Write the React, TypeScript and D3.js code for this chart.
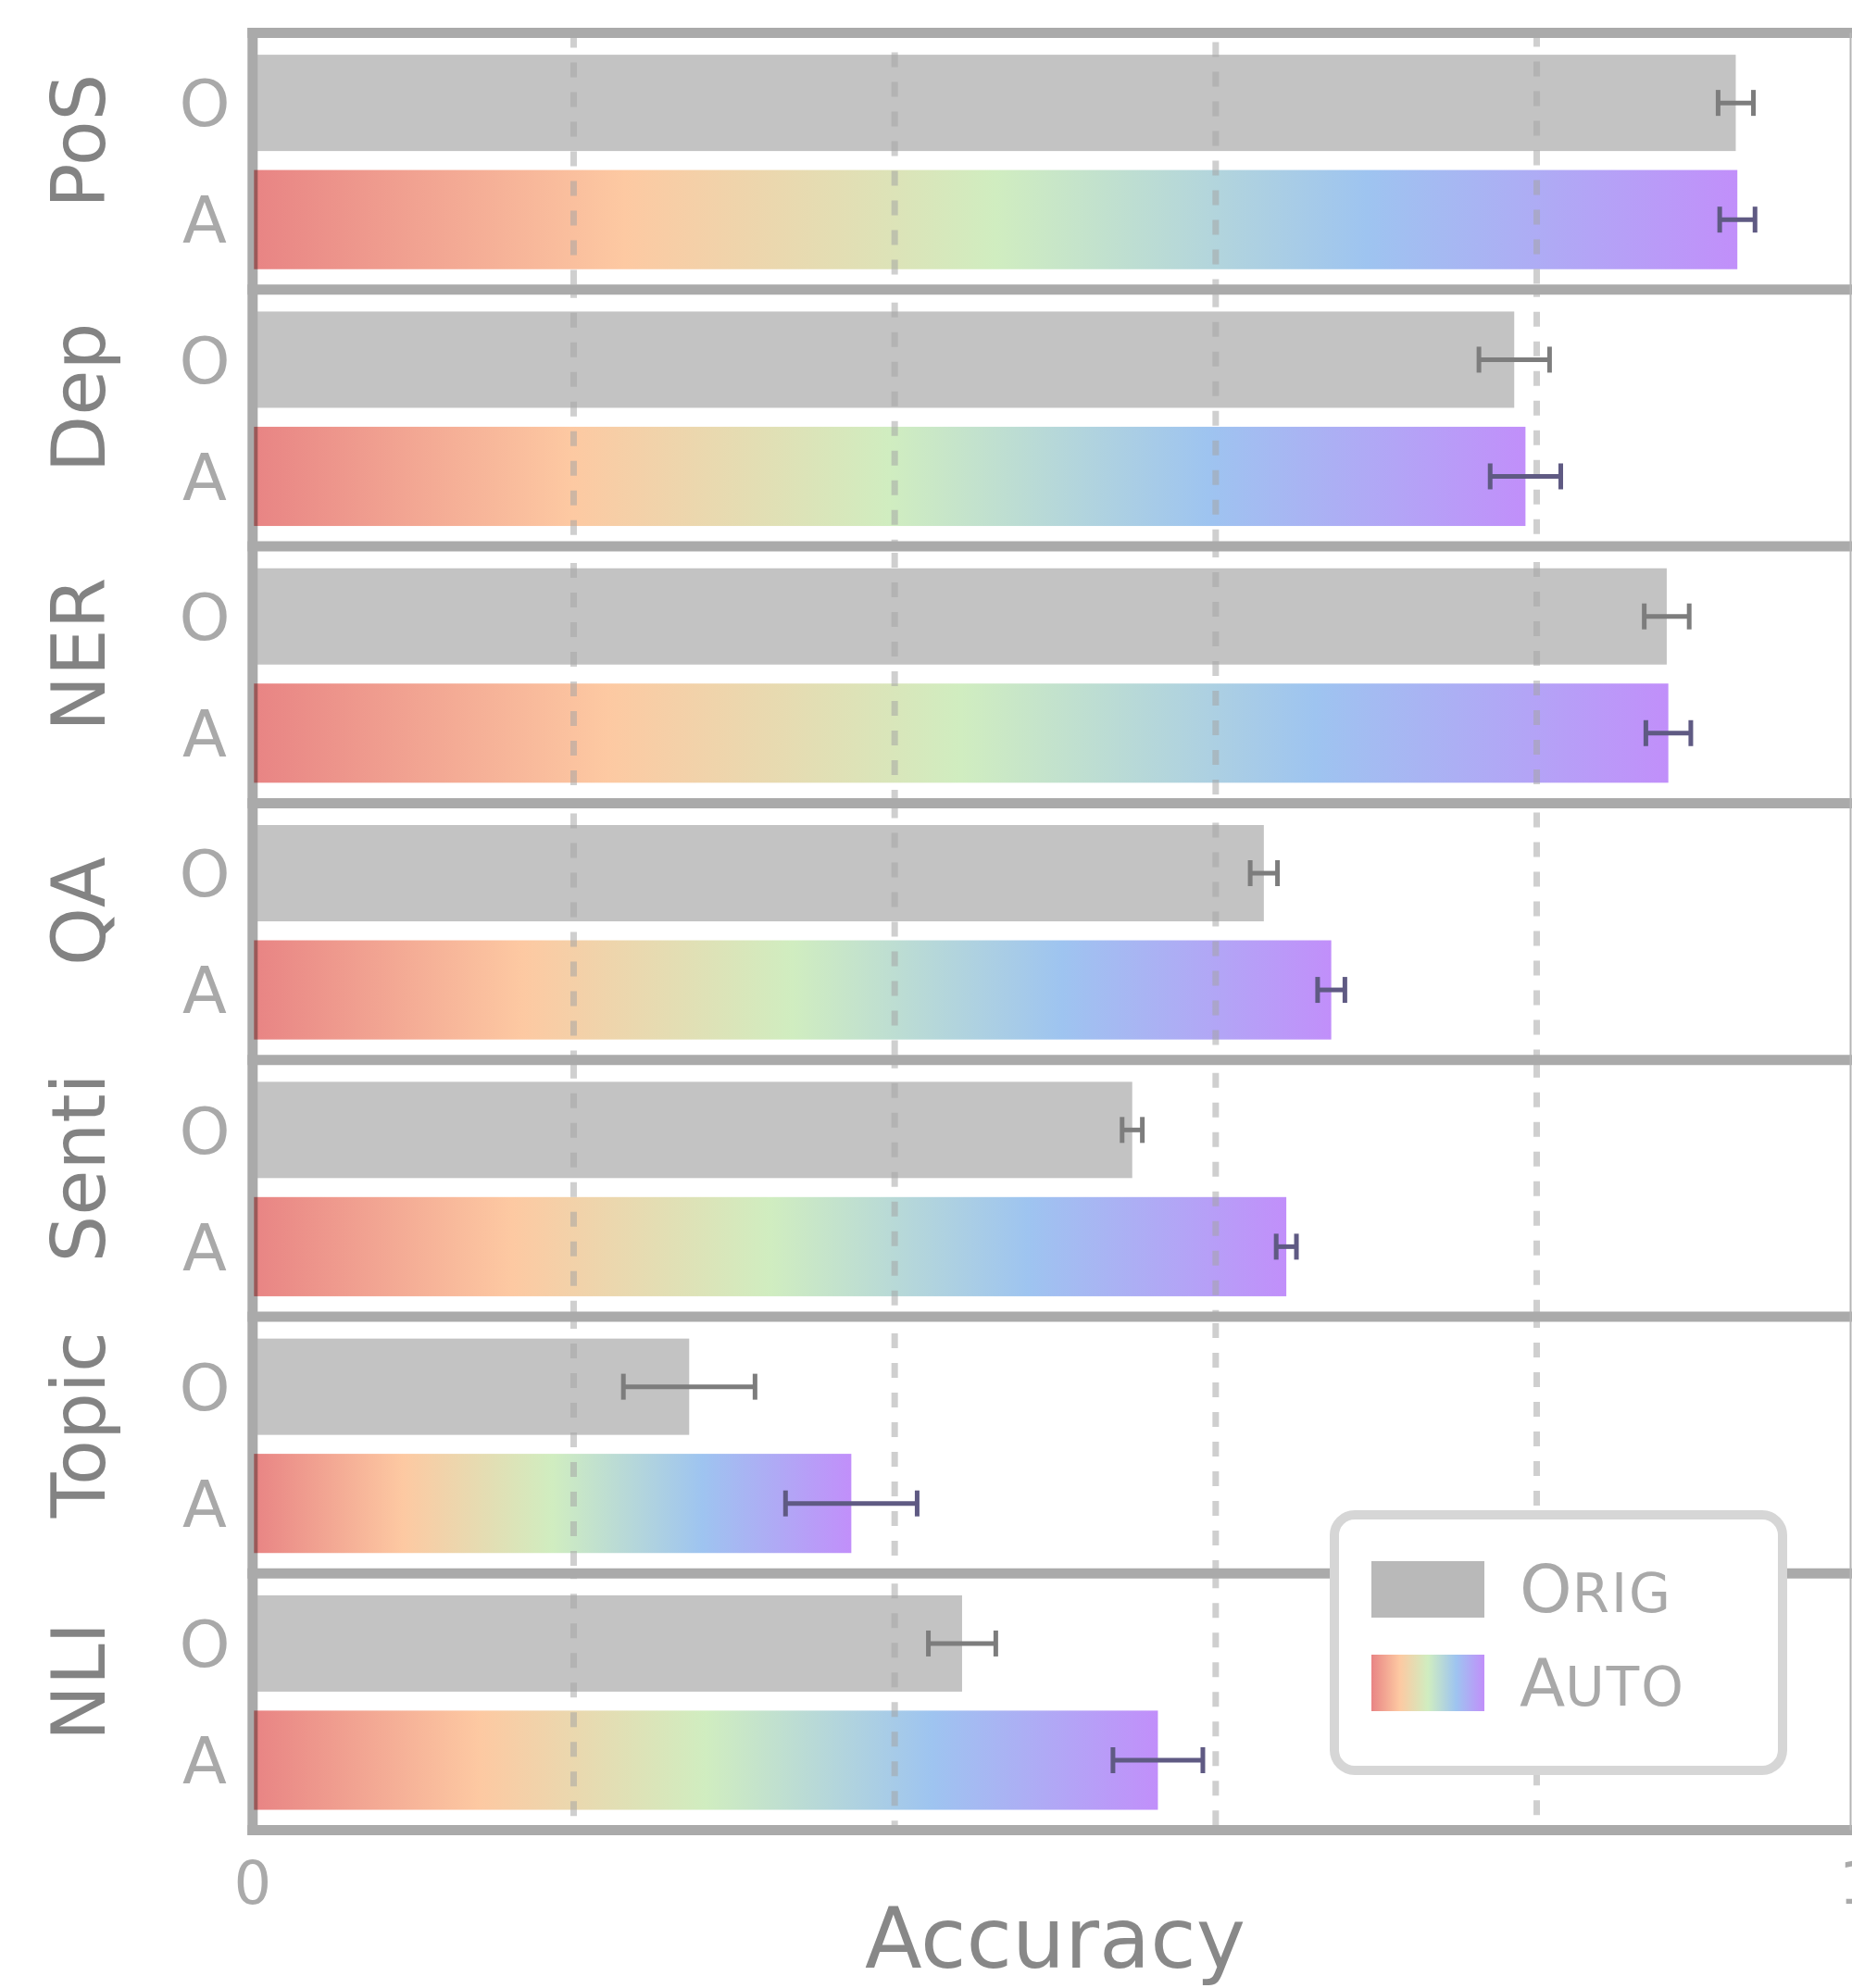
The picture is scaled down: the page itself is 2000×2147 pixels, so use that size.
import React from "react";
import * as d3 from "d3";

const tasks = ["PoS", "Dep", "NER", "QA", "Senti", "Topic", "NLI"];
const origValues = [0.924, 0.786, 0.881, 0.63, 0.548, 0.272, 0.442];
const origErrors = [0.011, 0.022, 0.014, 0.0085, 0.0063, 0.041, 0.021];
const autoValues = [0.925, 0.793, 0.882, 0.672, 0.644, 0.373, 0.564];
const autoErrors = [0.011, 0.022, 0.014, 0.0085, 0.0063, 0.041, 0.028];
const rowLabels = ["O", "A"];
const gridValues = [0.2, 0.4, 0.6, 0.8];
const tickLabels = [
  { v: 0, label: "0" },
  { v: 1, label: "1" },
];
const legendItems = [
  { first: "O", rest: "RIG", kind: "orig" },
  { first: "A", rest: "UTO", kind: "auto" },
];
const rainbowStops = [
  { o: 0, c: "#e88484" },
  { o: 0.25, c: "#fdc9a2" },
  { o: 0.5, c: "#d0edc0" },
  { o: 0.75, c: "#9ec4f0" },
  { o: 1, c: "#c18ffa" },
];

const W = 2000;
const H = 2147;
const FONT = "'DejaVu Sans', sans-serif";

export default function App() {
  const x = d3.scaleLinear().domain([0, 1]).range([272.8, 2006.2]);
  const group = d3.scaleBand().domain(tasks).range([35.5, 1976.6]).padding(0);
  const bw = group.bandwidth();
  const inner = d3.scaleLinear().domain([-0.6, 1.6]).range([0, bw]);
  const unit = inner(1) - inner(0);
  const oH = 0.825 * unit;
  const aH = 0.85 * unit;
  const capHalf = 14;
  const lineCol = "#aaaaaa";
  const top = group.range()[0];
  const bottom = group.range()[1];

  return (
    <svg
      width={W}
      height={H}
      style={{ position: "absolute", left: 0, top: 0, background: "#fff" }}
      fontFamily={FONT}
    >
      <defs>
        <linearGradient id="rainbow" x1="0" x2="1" y1="0" y2="0">
          {rainbowStops.map((s) => (
            <stop key={s.o} offset={s.o} stopColor={s.c} />
          ))}
        </linearGradient>
      </defs>
      <rect x={0} y={0} width={W} height={H} fill="#fff" />

      {/* Orig bars */}
      {tasks.map((t, i) => {
        const y0 = group(t)!;
        return (
          <rect
            key={"o" + t}
            x={x(0)}
            y={y0 + inner(0) - oH / 2}
            width={x(origValues[i]) - x(0)}
            height={oH}
            fill="#c3c3c3"
          />
        );
      })}

      {/* left spine */}
      <line x1={x(0)} x2={x(0)} y1={top - 5.5} y2={bottom + 5.5} stroke={lineCol} strokeWidth={11} />

      {/* Auto bars */}
      {tasks.map((t, i) => {
        const y0 = group(t)!;
        return (
          <rect
            key={"a" + t}
            x={x(0) + 1.5}
            y={y0 + inner(1) - aH / 2}
            width={x(autoValues[i]) - x(0) - 1.5}
            height={aH}
            fill="url(#rainbow)"
            style={{ mixBlendMode: "multiply" }}
          />
        );
      })}

      {/* gridlines */}
      {tasks.map((t, gi) =>
        gridValues.map((g, k) => (
          <line
            key={"g" + t + g}
            x1={x(g)}
            x2={x(g)}
            y1={group(t)!}
            y2={group(t)! + bw}
            stroke="rgba(165,165,165,0.53)"
            strokeWidth={7}
            strokeDasharray="16 16"
            strokeDashoffset={(gi * 7 + k * 11) % 32}
          />
        ))
      )}

      {/* error bars */}
      {tasks.map((t, i) => {
        const y0 = group(t)!;
        const rows = [
          { v: origValues[i], e: origErrors[i], cy: y0 + inner(0), col: "#7d7d7d" },
          { v: autoValues[i], e: autoErrors[i], cy: y0 + inner(1), col: "#5f5a83" },
        ];
        return rows.map((r, j) => (
          <g key={"e" + t + j} stroke={r.col} strokeWidth={5}>
            <line x1={x(r.v - r.e)} x2={x(r.v + r.e)} y1={r.cy} y2={r.cy} />
            <line x1={x(r.v - r.e)} x2={x(r.v - r.e)} y1={r.cy - capHalf} y2={r.cy + capHalf} />
            <line x1={x(r.v + r.e)} x2={x(r.v + r.e)} y1={r.cy - capHalf} y2={r.cy + capHalf} />
          </g>
        ));
      })}

      {/* horizontal frame lines */}
      {[...tasks.map((t) => group(t)!), bottom].map((yy, k) => (
        <line key={"h" + k} x1={x(0) - 5.5} x2={W} y1={yy} y2={yy} stroke={lineCol} strokeWidth={11} />
      ))}
      <line x1={1998.5} x2={1998.5} y1={top} y2={bottom} stroke="#b5b5b5" strokeWidth={2} />

      {/* group labels */}
      {tasks.map((t) => {
        const cy = group(t)! + bw / 2 - 22;
        return (
          <text
            key={"l" + t}
            transform={`translate(113,${cy}) rotate(-90)`}
            textAnchor="middle"
            fontSize={80}
            fill="#838383"
          >
            {t}
          </text>
        );
      })}

      {/* O / A labels */}
      {tasks.map((t) =>
        rowLabels.map((r, j) => (
          <text
            key={"r" + t + r}
            x={221}
            y={group(t)! + inner(j)}
            dy="0.36em"
            textAnchor="middle"
            fontSize={70}
            fill="#a9a9a9"
          >
            {r}
          </text>
        ))
      )}

      {/* x tick labels */}
      {tickLabels.map((tk) => (
        <text key={"t" + tk.v} x={x(tk.v)} y={2056} textAnchor="middle" fontSize={64} fill="#aaaaaa">
          {tk.label}
        </text>
      ))}
      <text x={x(0.5)} y={2125} textAnchor="middle" fontSize={90} fill="#888888">
        Accuracy
      </text>

      {/* legend */}
      <g>
        <rect x={1441} y={1636} width={484} height={276} rx={22} fill="#fff" stroke="#d6d6d6" strokeWidth={10} />
        {legendItems.map((it, k) => {
          const sy = 1686 + k * 101;
          return (
            <g key={"lg" + k}>
              <rect
                x={1481}
                y={sy}
                width={122}
                height={61}
                fill={it.kind === "orig" ? "#b9b9b9" : "url(#rainbow)"}
              />
              <text x={1641} y={sy + 55} fill="#a9a9a9" fontSize={72}>
                {it.first}
                <tspan fontSize={58} letterSpacing={2}>
                  {it.rest}
                </tspan>
              </text>
            </g>
          );
        })}
      </g>
    </svg>
  );
}
